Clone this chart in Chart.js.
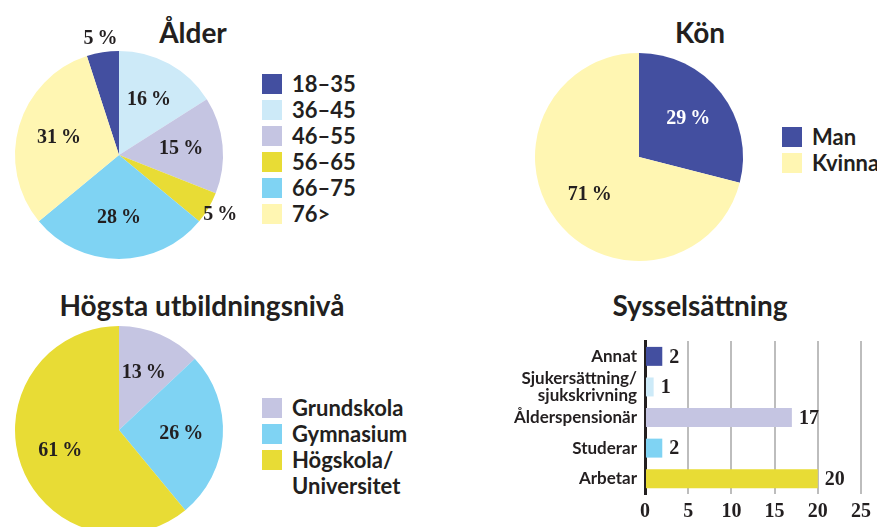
<!DOCTYPE html>
<html>
<head>
<meta charset="utf-8">
<script src="https://cdn.jsdelivr.net/npm/chart.js@4"></script>
<style>
  body { margin: 0; width: 877px; height: 527px; overflow: hidden; background: #fff; position: relative; font-family: Lato, "Open Sans", sans-serif; color: #231f20; }
  canvas { position: absolute; }
  .title { position: absolute; font-weight: bold; font-size: 28px; text-align: center; line-height: 30px; }
  .legend { position: absolute; font-weight: bold; font-size: 22px; line-height: 26px; }
  .legend div { display: flex; align-items: flex-start; white-space: pre-line; }
  .legend span.box { width: 20px; height: 20px; margin: 3px 10px 0 0; flex: none; }
</style>
</head>
<body>
<div class="title" style="left:0;top:17px;width:386px">Ålder</div>
<div class="title" style="left:520px;top:17px;width:360px">Kön</div>
<div class="title" style="left:0;top:290px;width:404px">Högsta utbildningsnivå</div>
<div class="title" style="left:520px;top:290px;width:360px">Sysselsättning</div>

<canvas id="alder" width="238" height="258" style="left:0;top:26px"></canvas>
<canvas id="kon" width="238" height="258" style="left:520px;top:28px"></canvas>
<canvas id="utb" width="238" height="258" style="left:0;top:301px"></canvas>
<canvas id="syss" width="377" height="202" style="left:500px;top:325px"></canvas>

<div class="legend" id="legAlder" style="left:262px;top:71px"></div>
<div class="legend" id="legKon" style="left:782px;top:124px"></div>
<div class="legend" id="legUtb" style="left:262px;top:395px"></div>

<script>
// Data
var alderLabels = ['18–35', '36–45', '46–55', '56–65', '66–75', '76>'];
var alderValues = [5, 16, 15, 5, 28, 31];
var alderColors = ['#434fa0', '#cdeaf8', '#c5c5e2', '#e8dc35', '#7fd3f3', '#fff6b2'];

var konLabels = ['Man', 'Kvinna'];
var konValues = [29, 71];
var konColors = ['#434fa0', '#fff6b2'];

var utbLabels = ['Grundskola', 'Gymnasium', 'Högskola/\nUniversitet'];
var utbValues = [13, 26, 61];
var utbColors = ['#c5c5e2', '#7fd3f3', '#e8dc35'];

var syssLabels = ['Annat', ['Sjukersättning/', 'sjukskrivning'], 'Ålderspensionär', 'Studerar', 'Arbetar'];
var syssValues = [2, 1, 17, 2, 20];
var syssColors = ['#434fa0', '#cdeaf8', '#c5c5e2', '#7fd3f3', '#e8dc35'];
var syssTicks = [0, 5, 10, 15, 20, 25];

var textColor = '#231f20';
var numFont = 'bold 20px "Liberation Serif", serif';

// procent i tårtbitarna, små bitar hamnar utanför
var pieLabels = {
    id: 'pieLabels',
    afterDatasetsDraw: function (chart, args, opts) {
        var ctx = chart.ctx;
        var ds = chart.data.datasets[0];
        chart.getDatasetMeta(0).data.forEach(function (arc, i) {
            var v = ds.data[i];
            var mid = (arc.startAngle + arc.endAngle) / 2;
            var r = v < 8 ? arc.outerRadius * 1.13 : arc.outerRadius * 0.6;
            ctx.save();
            ctx.font = numFont;
            ctx.fillStyle = (opts.colors && opts.colors[i]) || textColor;
            ctx.textAlign = 'center';
            ctx.textBaseline = 'middle';
            ctx.fillText(v + '\u2009%', arc.x + Math.cos(mid) * r, arc.y + Math.sin(mid) * r);
            ctx.restore();
        });
    }
};

function makePie(id, labels, values, colors, rotation, labelColors) {
    return new Chart(document.getElementById(id), {
        type: 'pie',
        data: {
            labels: labels,
            datasets: [{ data: values, backgroundColor: colors, borderWidth: 0 }]
        },
        options: {
            responsive: false,
            animation: false,
            rotation: rotation,
            layout: { padding: { left: 15, right: 15, top: 25, bottom: 25 } },
            plugins: {
                legend: { display: false },
                tooltip: { enabled: false },
                pieLabels: { colors: labelColors }
            }
        },
        plugins: [pieLabels]
    });
}

function makeLegend(id, labels, colors) {
    var el = document.getElementById(id);
    labels.forEach(function (l, i) {
        var row = document.createElement('div');
        var box = document.createElement('span');
        box.className = 'box';
        box.style.background = colors[i];
        var txt = document.createElement('span');
        txt.textContent = l;
        row.appendChild(box);
        row.appendChild(txt);
        el.appendChild(row);
    });
}

makePie('alder', alderLabels, alderValues, alderColors, -18);
makePie('kon', konLabels, konValues, konColors, 0, ['#fff', textColor]);
makePie('utb', utbLabels, utbValues, utbColors, 0);

makeLegend('legAlder', alderLabels, alderColors);
makeLegend('legKon', konLabels, konColors);
makeLegend('legUtb', utbLabels, utbColors);

// värden efter staplarna
var barLabels = {
    id: 'barLabels',
    afterDatasetsDraw: function (chart) {
        var ctx = chart.ctx;
        var ds = chart.data.datasets[0];
        chart.getDatasetMeta(0).data.forEach(function (bar, i) {
            ctx.save();
            ctx.font = numFont;
            ctx.fillStyle = textColor;
            ctx.textBaseline = 'middle';
            ctx.fillText(ds.data[i], bar.x + 7, bar.y + 1);
            ctx.restore();
        });
    }
};

new Chart(document.getElementById('syss'), {
    type: 'bar',
    data: {
        labels: syssLabels,
        datasets: [{ data: syssValues, backgroundColor: syssColors, borderWidth: 0 }]
    },
    options: {
        responsive: false,
        animation: false,
        indexAxis: 'y',
        layout: { padding: { top: 8, right: 13, left: 0, bottom: 0 } },
        datasets: { bar: { categoryPercentage: 1, barPercentage: 0.62 } },
        scales: {
            x: {
                min: 0,
                max: 25,
                afterBuildTicks: function (s) { s.ticks = syssTicks.map(function (v) { return { value: v }; }); },
                afterFit: function (s) { s.height = 33; },
                grid: {
                    drawTicks: false,
                    lineWidth: 2,
                    color: function (c) { return c.tick && c.tick.value === 0 ? 'rgba(0,0,0,0)' : '#bdbdbd'; }
                },
                border: { display: false },
                ticks: { padding: 6, color: textColor, font: { family: '"Liberation Serif", serif', size: 20, weight: 'bold' } }
            },
            y: {
                afterFit: function (s) { s.width = 145; },
                grid: { display: false, drawTicks: false },
                border: { display: true, color: textColor, width: 3 },
                ticks: { autoSkip: false, padding: 8, color: textColor, font: { family: 'Lato, sans-serif', size: 17, weight: 'bold', lineHeight: 0.95 } }
            }
        },
        plugins: {
            legend: { display: false },
            tooltip: { enabled: false }
        }
    },
    plugins: [barLabels]
});
</script>
</body>
</html>
